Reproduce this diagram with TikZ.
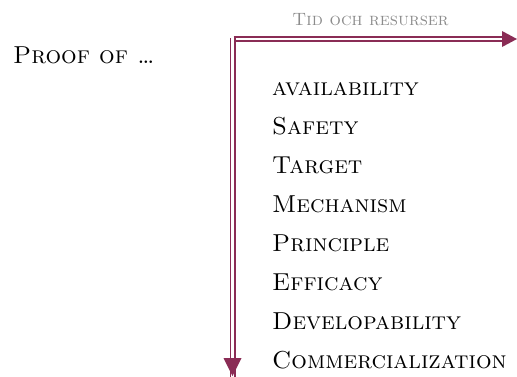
\documentclass[tikz,border=0pt]{standalone}
\usepackage{tikz}
\usepackage{xcolor}
\usetikzlibrary{arrows.meta, positioning}
\definecolor{accent}{HTML}{8A2C55}
\definecolor{labelgray}{HTML}{8C8C8C}

\begin{document}
\begin{tikzpicture}[x=1bp, y=-1bp,
  timeline/.style={draw=accent, line width=1.9bp, double=white, double distance=2.2bp},
  timetip/.style={fill=accent, draw=none},
  stage/.style={anchor=base west, inner sep=0pt, font=\fontsize{24.6}{28}\selectfont\scshape}]
  \useasboundingbox (0,0) rectangle (517,376);

  % heading on the left
  \node[anchor=base west, inner sep=0pt, font=\fontsize{24.6}{28}\selectfont\scshape] (proof) at (13,63) {Proof of \dots};

  % time axis and stage axis
  \coordinate (corner) at (232.5,39);
  \coordinate (timeend) at (517,39);
  \coordinate (stageend) at (232.5,376);
  \draw[timeline] ([xshift=1bp]corner) -- ([xshift=-14bp]timeend);
  \draw[timeline] ([yshift=1bp]corner) -- ([yshift=-16bp]stageend);
  \fill[timetip] (timeend) -- ++(-15,-8) -- ++(0,16) -- cycle;
  \fill[timetip] (stageend) -- ++(-9,-18) -- ++(18,0) -- cycle;
  \node[anchor=base, inner sep=0pt, text=labelgray, font=\fontsize{17.9}{21}\selectfont\scshape] (tid) at (370.5,25) {Tid och resurser};

  % the stages, one per line
  \foreach \name [count=\i] in {availability, Safety, Target, Mechanism, Principle, Efficacy, Developability, Commercialization} {
      \node[stage] (stage\i) at (272, 56+39*\i) {\name};
  }
\end{tikzpicture}
\end{document}
